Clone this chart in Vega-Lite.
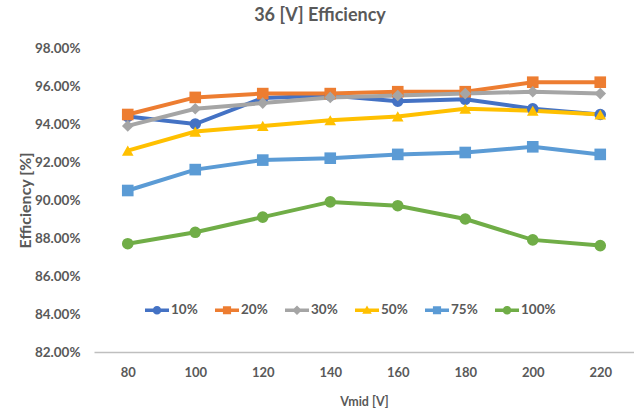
{
  "$schema": "https://vega.github.io/schema/vega-lite/v6.json",
  "width": 540,
  "height": 304,
  "autosize": {"type": "none"},
  "padding": {"left": 94, "top": 48, "right": 0, "bottom": 63},
  "background": "white",
  "title": {"text": "36 [V] Efficiency", "fontSize": 18, "font": "Lato", "fontWeight": "bold", "color": "#595959", "anchor": "middle", "dx": -44, "offset": 16},
  "config": {
    "view": {"stroke": null},
    "font": "Lato"
  },
  "data": {"values": [
    {"v": 80, "s": "10%", "e": 0.944}, {"v": 100, "s": "10%", "e": 0.940}, {"v": 120, "s": "10%", "e": 0.9537}, {"v": 140, "s": "10%", "e": 0.955}, {"v": 160, "s": "10%", "e": 0.952}, {"v": 180, "s": "10%", "e": 0.953}, {"v": 200, "s": "10%", "e": 0.948}, {"v": 220, "s": "10%", "e": 0.945},
    {"v": 80, "s": "20%", "e": 0.945}, {"v": 100, "s": "20%", "e": 0.954}, {"v": 120, "s": "20%", "e": 0.956}, {"v": 140, "s": "20%", "e": 0.956}, {"v": 160, "s": "20%", "e": 0.957}, {"v": 180, "s": "20%", "e": 0.957}, {"v": 200, "s": "20%", "e": 0.962}, {"v": 220, "s": "20%", "e": 0.962},
    {"v": 80, "s": "30%", "e": 0.939}, {"v": 100, "s": "30%", "e": 0.948}, {"v": 120, "s": "30%", "e": 0.951}, {"v": 140, "s": "30%", "e": 0.954}, {"v": 160, "s": "30%", "e": 0.955}, {"v": 180, "s": "30%", "e": 0.956}, {"v": 200, "s": "30%", "e": 0.957}, {"v": 220, "s": "30%", "e": 0.956},
    {"v": 80, "s": "50%", "e": 0.926}, {"v": 100, "s": "50%", "e": 0.936}, {"v": 120, "s": "50%", "e": 0.939}, {"v": 140, "s": "50%", "e": 0.942}, {"v": 160, "s": "50%", "e": 0.944}, {"v": 180, "s": "50%", "e": 0.948}, {"v": 200, "s": "50%", "e": 0.947}, {"v": 220, "s": "50%", "e": 0.945},
    {"v": 80, "s": "75%", "e": 0.905}, {"v": 100, "s": "75%", "e": 0.916}, {"v": 120, "s": "75%", "e": 0.921}, {"v": 140, "s": "75%", "e": 0.922}, {"v": 160, "s": "75%", "e": 0.924}, {"v": 180, "s": "75%", "e": 0.925}, {"v": 200, "s": "75%", "e": 0.928}, {"v": 220, "s": "75%", "e": 0.924},
    {"v": 80, "s": "100%", "e": 0.877}, {"v": 100, "s": "100%", "e": 0.883}, {"v": 120, "s": "100%", "e": 0.891}, {"v": 140, "s": "100%", "e": 0.899}, {"v": 160, "s": "100%", "e": 0.897}, {"v": 180, "s": "100%", "e": 0.890}, {"v": 200, "s": "100%", "e": 0.879}, {"v": 220, "s": "100%", "e": 0.876}
  ]},
  "encoding": {
    "x": {"field": "v", "type": "ordinal", "title": "Vmid [V]",
      "scale": {"paddingInner": 0, "paddingOuter": 0.5},
      "axis": {"labelAngle": 0, "ticks": false, "grid": false, "domainColor": "#BFBFBF", "domainWidth": 1.5, "labelColor": "#595959", "labelFontSize": 13, "labelFontWeight": "bold", "labelPadding": 14, "titleColor": "#595959", "titleFontSize": 12.5, "titleFontWeight": "bold", "titlePadding": 16}},
    "y": {"field": "e", "type": "quantitative", "title": "Efficiency [%]",
      "scale": {"domain": [0.82, 0.98], "nice": false, "zero": false},
      "axis": {"format": ".2%", "values": [0.82, 0.84, 0.86, 0.88, 0.90, 0.92, 0.94, 0.96, 0.98], "domain": false, "ticks": false, "grid": false, "labelColor": "#595959", "labelFontSize": 13.5, "labelFontWeight": "bold", "labelPadding": 14, "titleColor": "#595959", "titleFontSize": 16, "titleFontWeight": "bold", "titlePadding": 1}}
  },
  "resolve": {"scale": {"color": "independent"}, "legend": {"color": "independent"}},
  "layer": [
    {"mark": {"type": "line", "strokeWidth": 4},
     "encoding": {"color": {"field": "s", "type": "nominal", "title": null,
      "scale": {"domain": ["10%", "20%", "30%", "50%", "75%", "100%"], "range": ["#4472C4", "#ED7D31", "#A5A5A5", "#FFC000", "#5B9BD5", "#70AD47"]},
      "legend": {"orient": "none", "legendX": 51, "legendY": 250, "direction": "horizontal", "columns": 6, "columnPadding": 17, "labelOffset": 2, "labelColor": "#595959", "labelFontSize": 13.5, "labelFontWeight": "bold", "symbolSize": 576, "symbolStrokeWidth": 0, "symbolOpacity": 1,
        "encode": {"symbols": {"update": {
          "size": {"value": 576},
          "strokeWidth": {"value": 0},
          "fill": {"signal": "datum.value === '10%' ? '#4472C4' : datum.value === '20%' ? '#ED7D31' : datum.value === '30%' ? '#A5A5A5' : datum.value === '50%' ? '#FFC000' : datum.value === '75%' ? '#5B9BD5' : '#70AD47'"},
          "shape": {"signal": "(datum.value === '10%' || datum.value === '100%') ? 'M-1,-0.14H1V0.14H-1Z M0.36,0A0.36,0.36 0 1 1 -0.36,0A0.36,0.36 0 1 1 0.36,0Z' : (datum.value === '20%' || datum.value === '75%') ? 'M-1,-0.14H1V0.14H-1Z M-0.34,-0.34H0.34V0.34H-0.34Z' : datum.value === '30%' ? 'M-1,-0.14H1V0.14H-1Z M0,-0.4L0.4,0L0,0.4L-0.4,0Z' : 'M-1,-0.14H1V0.14H-1Z M0,-0.4L0.4,0.3L-0.4,0.3Z'"}
        }}}}}}},
    {"mark": {"type": "point", "filled": true, "opacity": 1, "size": 135},
     "encoding": {
       "color": {"field": "s", "type": "nominal", "legend": null,
         "scale": {"domain": ["10%", "20%", "30%", "50%", "75%", "100%"], "range": ["#4472C4", "#ED7D31", "#A5A5A5", "#FFC000", "#5B9BD5", "#70AD47"]}},
       "shape": {"field": "s", "type": "nominal", "title": null, "legend": null,
       "scale": {"domain": ["10%", "20%", "30%", "50%", "75%", "100%"], "range": ["circle", "square", "diamond", "triangle-up", "square", "circle"]}}}}
  ]
}
